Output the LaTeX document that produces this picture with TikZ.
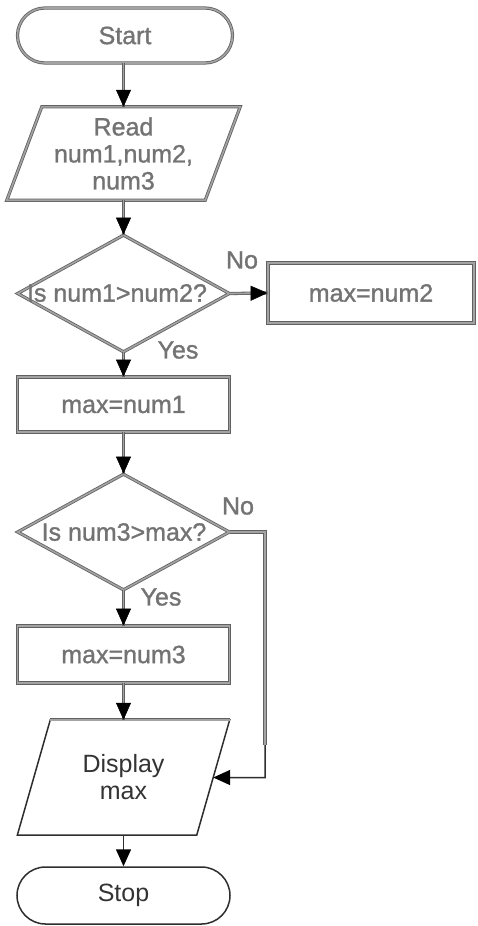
\documentclass[tikz,border=0pt]{standalone}
\usepackage{fontspec}
\setmainfont{Liberation Sans}
\newfontfamily\heavyface[FakeBold=1.2]{Liberation Sans}
\usetikzlibrary{shapes.geometric,shapes.misc,arrows.meta,calc}

% one connector: a doubled shaft with a solid black head on top
\newcommand\flowlink[2]{%
  \draw[twin] (#1) -- (#2);
  \draw[headline] (#1) -- (#2);}

\begin{document}
\begin{tikzpicture}[x=1pt,y=-1pt,
  every node/.style={font=\fontsize{25}{27}\selectfont, inner sep=0pt, align=center},
  twin/.style={draw=black!62, line width=0.8pt, double=black!36, double distance=1.6pt},
  thinline/.style={draw=black!82, line width=1.5pt},
  headline/.style={draw=black!36, line width=0.5pt,
    -{Triangle[length=17pt,width=15pt,color=black]}},
  thinhead/.style={thinline, -{Triangle[length=17pt,width=15pt,color=black]}},
  upper/.style={text=black!55, font=\heavyface\fontsize{25}{27}\selectfont},
  lower/.style={text=black!80},
  term/.style={rounded rectangle, minimum width=#1},
  box/.style={rectangle, minimum width=212pt, minimum height=#1},
  cond/.style={diamond, minimum width=212pt, minimum height=117pt},
  frame/.style={rectangle, minimum width=#1},
]
\useasboundingbox (0,0) rectangle (477,926);

% ---- shapes ----
\node[term=215pt, minimum height=55pt, twin, upper] (start) at (125,35.5) {Start};

\node[frame=233pt, minimum height=93pt, upper] (read) at (123.5,153.5)
  {Read\\num1,num2,\\num3};
\draw[twin] ($(read.north west)+(35,0)$) -- (read.north east)
  -- ($(read.south east)-(35,0)$) -- (read.south west) -- cycle;

\node[cond, twin] (d1) at (123.5,293.5) {};
\node[upper] (d1t) at (117,293) {Is num1>num2?};

\node[box=60pt, minimum width=206pt, twin, upper] (n2) at (371,293) {max=num2};

\node[box=55pt, twin, upper] (m1) at (123.5,404.5) {max=num1};

\node[cond, minimum height=116pt, twin] (d2) at (123.5,532) {};
\node[upper] (d2t) at (124,532) {Is num3>max?};

\node[box=57pt, twin, upper] (m3) at (123.5,654.5) {max=num3};

\node[frame=212pt, minimum height=115pt, lower] (disp) at (123.5,777.5) {Display\\max};
\coordinate (dispTL) at ($(disp.north west)+(33,0)$);
\coordinate (dispTR) at (disp.north east);
\coordinate (dispBR) at ($(disp.south east)-(33,0)$);
\coordinate (dispBL) at (disp.south west);
\coordinate (dispIn) at ($(dispTR)!0.5!(dispBR)$);
\draw[thinline] (dispTL) -- (dispTR) -- (dispBR) -- (dispBL) -- cycle;
\draw[twin] (dispTL) -- (dispTR);

\node[term=213pt, minimum height=57pt, thinline, lower] (stop) at (123.5,895.5) {Stop};

% ---- branch labels ----
\node[upper] (no1) at (242,260) {No};
\node[upper] (yes1) at (178,350) {Yes};
\node[upper] (no2) at (238,506) {No};
\node[upper] (yes2) at (161,597) {Yes};

% ---- connectors ----
\flowlink{start.south -| read.north}{read.north}
\flowlink{read.south}{d1.north}
\flowlink{d1.east}{n2.west}
\flowlink{d1.south}{m1.north}
\flowlink{m1.south}{d2.north}
\flowlink{d2.south}{m3.north}
\flowlink{m3.south}{disp.north}
\draw[thinhead] (disp.south) -- (stop.north);

% "No" path of the second test, back into the output box
\coordinate (loopTop) at (265,532);
\coordinate (loopMid) at (265,745);
\coordinate (loopBot) at (265,777.5);
\draw[twin] (d2.east) -- (loopTop) -- (loopMid);
\draw[thinhead] (loopMid) -- (loopBot) -- (dispIn);
\end{tikzpicture}
\end{document}
